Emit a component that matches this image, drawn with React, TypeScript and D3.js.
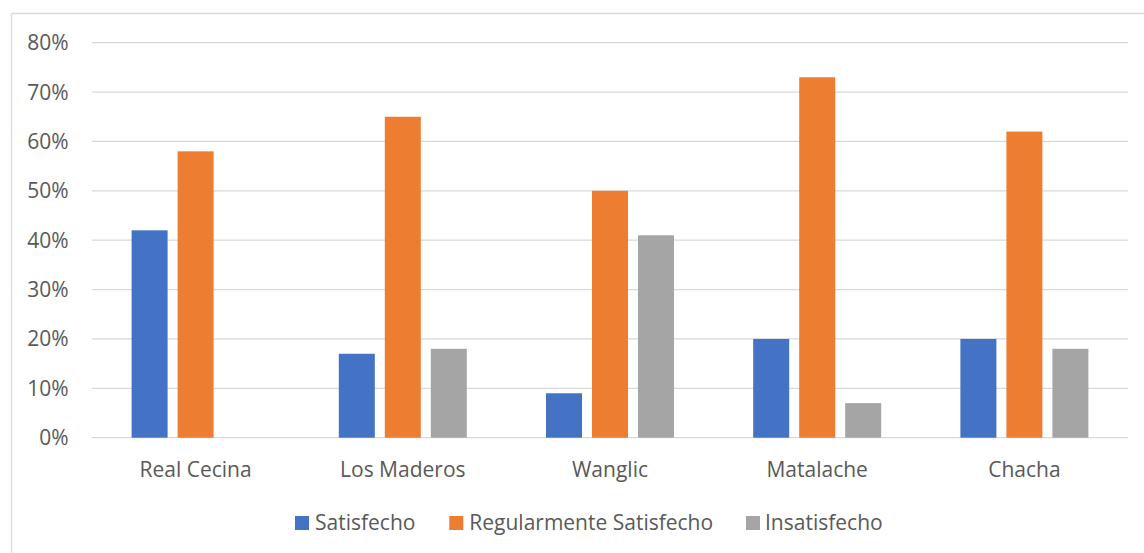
import React from "react";
import * as d3 from "d3";

const categories = ["Real Cecina", "Los Maderos", "Wanglic", "Matalache", "Chacha"];
const seriesNames = ["Satisfecho", "Regularmente Satisfecho", "Insatisfecho"];
const satisfecho = [0.42, 0.17, 0.09, 0.2, 0.2];
const regular = [0.58, 0.65, 0.5, 0.73, 0.62];
const insatisfecho = [0, 0.18, 0.41, 0.07, 0.18];
const yTicks = [0, 0.1, 0.2, 0.3, 0.4, 0.5, 0.6, 0.7, 0.8];
const colors = ["#4472C4", "#ED7D31", "#A5A5A5"];

const W = 1144;
const H = 553;
const FONT = "'Open Sans', sans-serif";
const FS = 21;

export default function App() {
  const series = [satisfecho, regular, insatisfecho];
  const x = d3.scaleBand<string>().domain(categories).range([92, 1128]).padding(0);
  const y = d3.scaleLinear().domain([0, 0.8]).range([437.7, 42.7]);
  const barW = 36;
  const gap = 10;
  const groupW = barW * 3 + gap * 2;
  const fmt = d3.format(".0%");

  const legendItems = [
    { name: seriesNames[0], sx: 295, tx: 315 },
    { name: seriesNames[1], sx: 449.3, tx: 469.3 },
    { name: seriesNames[2], sx: 746, tx: 765 },
  ];

  return (
    <svg width={W} height={H} style={{ position: "absolute", left: 0, top: 0 }}>
      <rect x={0} y={0} width={W} height={H} fill="#fff" />
      <line x1={11.5} y1={13.5} x2={W} y2={13.5} stroke="#d9d9d9" strokeWidth={1.3} />
      <line x1={11.5} y1={13.5} x2={11.5} y2={H} stroke="#d9d9d9" strokeWidth={1.3} />
      {yTicks.map((t) => (
        <g key={t}>
          <line x1={92} x2={1128} y1={y(t)} y2={y(t)} stroke="#d9d9d9" strokeWidth={1.3} />
          <text
            x={68.5}
            y={y(t)}
            dy="0.357em"
            textAnchor="end"
            fontFamily={FONT}
            fontSize={FS}
            fill="#595959"
          >
            {fmt(t)}
          </text>
        </g>
      ))}
      {categories.map((c, i) => {
        const cx = (x(c) as number) + x.bandwidth() / 2;
        const x0 = cx - groupW / 2;
        return (
          <g key={c}>
            {series.map((s, j) =>
              s[i] > 0 ? (
                <rect
                  key={j}
                  x={x0 + j * (barW + gap)}
                  y={y(s[i])}
                  width={barW}
                  height={y(0) - y(s[i])}
                  fill={colors[j]}
                />
              ) : null
            )}
            <text
              x={cx}
              y={476.7}
              textAnchor="middle"
              fontFamily={FONT}
              fontSize={FS}
              fill="#595959"
            >
              {c}
            </text>
          </g>
        );
      })}
      {legendItems.map((it, j) => (
        <g key={it.name}>
          <rect x={it.sx} y={516} width={14} height={14} fill={colors[j]} />
          <text x={it.tx} y={530} fontFamily={FONT} fontSize={FS} fill="#595959">
            {it.name}
          </text>
        </g>
      ))}
    </svg>
  );
}
